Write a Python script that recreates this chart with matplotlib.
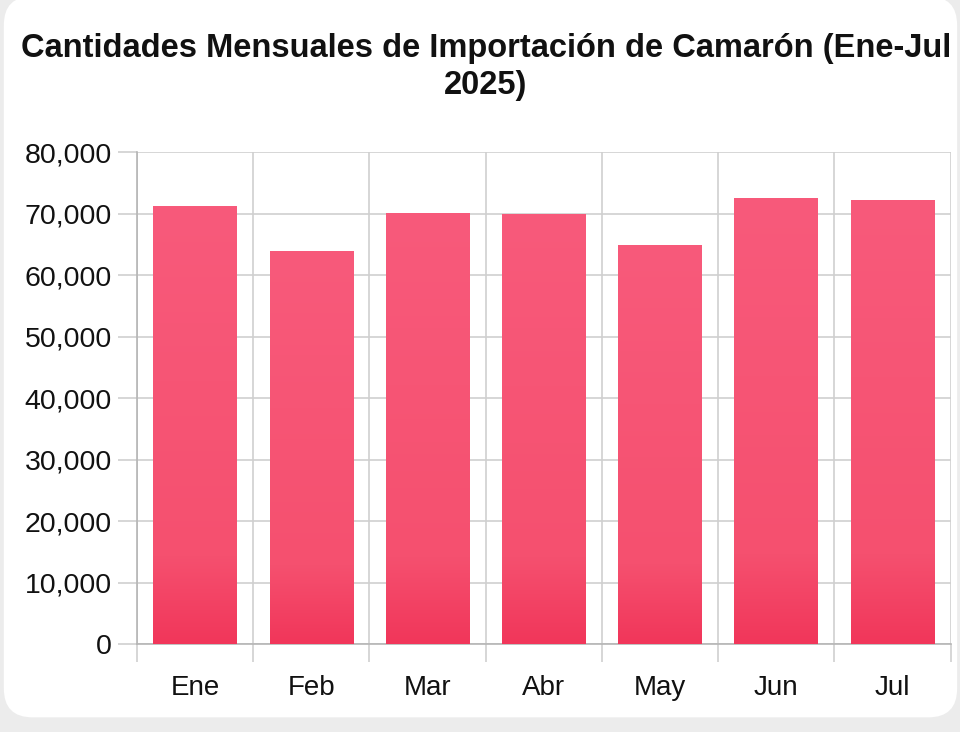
import numpy as np
import matplotlib.pyplot as plt
from matplotlib.patches import FancyBboxPatch
from matplotlib.colors import LinearSegmentedColormap
from matplotlib.ticker import FuncFormatter, MultipleLocator

months = ['Ene', 'Feb', 'Mar', 'Abr', 'May', 'Jun', 'Jul']
cantidades = [71200, 63950, 70100, 70000, 64900, 72600, 72200]

plt.rcParams['font.family'] = ['Liberation Sans', 'DejaVu Sans']

fig = plt.figure(figsize=(9.6, 7.32), dpi=100)
fig.patch.set_facecolor('#ececec')

# white rounded card behind the chart
card = FancyBboxPatch((0.004, 0.02), 0.993, 0.985,
                      boxstyle='round,pad=0,rounding_size=0.03',
                      transform=fig.transFigure, facecolor='white',
                      edgecolor='none', zorder=-5, mutation_aspect=960/732)
fig.patches.append(card)

ax = fig.add_axes([0.1427, 0.1202, 0.8476, 0.6721])
ax.set_facecolor('none')
ax.set_zorder(2)

x = np.arange(len(months))
bars = ax.bar(x, cantidades, width=0.72, color='#f64d6e', edgecolor='none', zorder=3)

# gradient: darker red only near the base of each bar
cmap = LinearSegmentedColormap.from_list(
    'pink', [(0.0, '#f1365a'), (0.2, '#f5506f'), (1.0, '#f85a7b')])
grad = np.linspace(0, 1, 256).reshape(-1, 1)
for b in bars:
    x0, w, h = b.get_x(), b.get_width(), b.get_height()
    im = ax.imshow(grad, cmap=cmap, aspect='auto', origin='lower',
                   extent=(x0, x0 + w, 0, h), zorder=4)
    im.set_clip_path(b)

ax.set_xlim(-0.5, len(months) - 0.5)
ax.set_ylim(0, 80000)

ax.yaxis.set_major_locator(MultipleLocator(10000))
ax.yaxis.set_major_formatter(FuncFormatter(lambda v, p: f'{int(v):,}'))
ax.set_xticks(x)
ax.set_xticklabels(months)
ax.set_xticks(np.arange(-0.5, len(months)), minor=True)

ax.grid(axis='y', which='major', color='#cfcfcf', linewidth=1.2, zorder=1)
ax.grid(axis='x', which='minor', color='#cfcfcf', linewidth=1.2, zorder=1)

ax.tick_params(axis='y', which='major', length=14, width=1.2, color='#cfcfcf',
               labelsize=20.5, pad=4, labelcolor='#111111')
ax.tick_params(axis='x', which='major', length=0, labelsize=20, pad=22,
               labelcolor='#111111')
ax.tick_params(axis='x', which='minor', length=13, width=1.2, color='#cfcfcf')

for s in ['top', 'right']:
    ax.spines[s].set_visible(False)
for s in ['left', 'bottom']:
    ax.spines[s].set_color('#b5b5b5')
    ax.spines[s].set_linewidth(1.2)

fig.text(0.506, 0.908, 'Cantidades Mensuales de Importación de Camarón (Ene-Jul\n2025)',
         ha='center', va='center', fontsize=23.5, fontweight='bold',
         linespacing=1.25, color='#111111')

fig.savefig('out.png', dpi=100, facecolor=fig.get_facecolor())
